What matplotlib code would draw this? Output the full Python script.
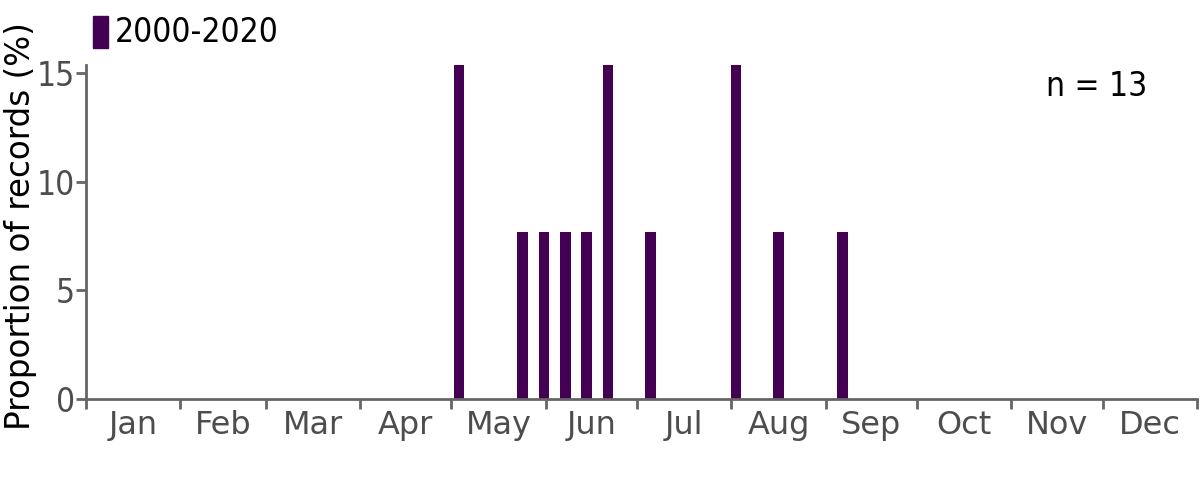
import numpy as np
import matplotlib
matplotlib.use("Agg")
import matplotlib.pyplot as plt

# weekly bins (0-indexed week of year) that have records, and the record counts
weeks = [17, 20, 21, 22, 23, 24, 26, 30, 32, 35]
counts = [2, 1, 1, 1, 1, 2, 1, 2, 1, 1]
months = ["Jan", "Feb", "Mar", "Apr", "May", "Jun",
          "Jul", "Aug", "Sep", "Oct", "Nov", "Dec"]
month_days = [31, 28, 31, 30, 31, 30, 31, 31, 30, 31, 30, 31]
period = "2000-2020"

n_total = sum(counts)
props = [100 * c / n_total for c in counts]

plt.rcParams["font.family"] = "DejaVu Sans"

AXC = "#666666"
TXC = "#4d4d4d"
BAR = "#440154"

fig = plt.figure(figsize=(12, 4.8), dpi=100)
ax = fig.add_axes([0.0717, 0.169, 0.9258, 0.6958])

centers = [w * 7 + 3.5 for w in weeks]
ax.bar(centers, props, width=3.5, color=BAR)

ax.set_xlim(0, 365)
ax.set_ylim(0, max(props))

starts = np.concatenate([[0], np.cumsum(month_days)])
mids = starts[:-1] + np.array(month_days) / 2
ax.set_xticks(starts)
ax.set_xticklabels([])
ax.set_xticks(mids, minor=True)
ax.set_xticklabels(months, minor=True)
ax.tick_params(axis="x", which="major", length=7, width=2, color=AXC)
ax.tick_params(axis="x", which="minor", length=0, pad=8, labelsize=23, labelcolor=TXC)

ax.set_yticks([0, 5, 10, 15])
ax.tick_params(axis="y", length=7, width=2, color=AXC, pad=1, labelsize=24, labelcolor=TXC)
for lab in ax.get_yticklabels():
    lab.set_fontstretch("condensed")

for s in ["top", "right"]:
    ax.spines[s].set_visible(False)
for s in ["left", "bottom"]:
    ax.spines[s].set_color(AXC)
    ax.spines[s].set_linewidth(2)

fig.text(0.0167, 0.529, "Proportion of records (%)", rotation=90,
         ha="center", va="center", fontsize=23.5, color="black")

# legend: a tall swatch and the period label
fig.patches.append(plt.Rectangle((93 / 1200, 1 - 48 / 480), 15 / 1200, 32 / 480,
                                 transform=fig.transFigure, color=BAR))
fig.text(115 / 1200, 1 - 33 / 480, period, ha="left", va="center",
         fontsize=24, color="black", fontstretch="condensed")

fig.text(1147 / 1200, 1 - 86 / 480, f"n = {n_total}", ha="right", va="center",
         fontsize=24, color="black", fontstretch="condensed")

fig.savefig("out.png", dpi=100)
